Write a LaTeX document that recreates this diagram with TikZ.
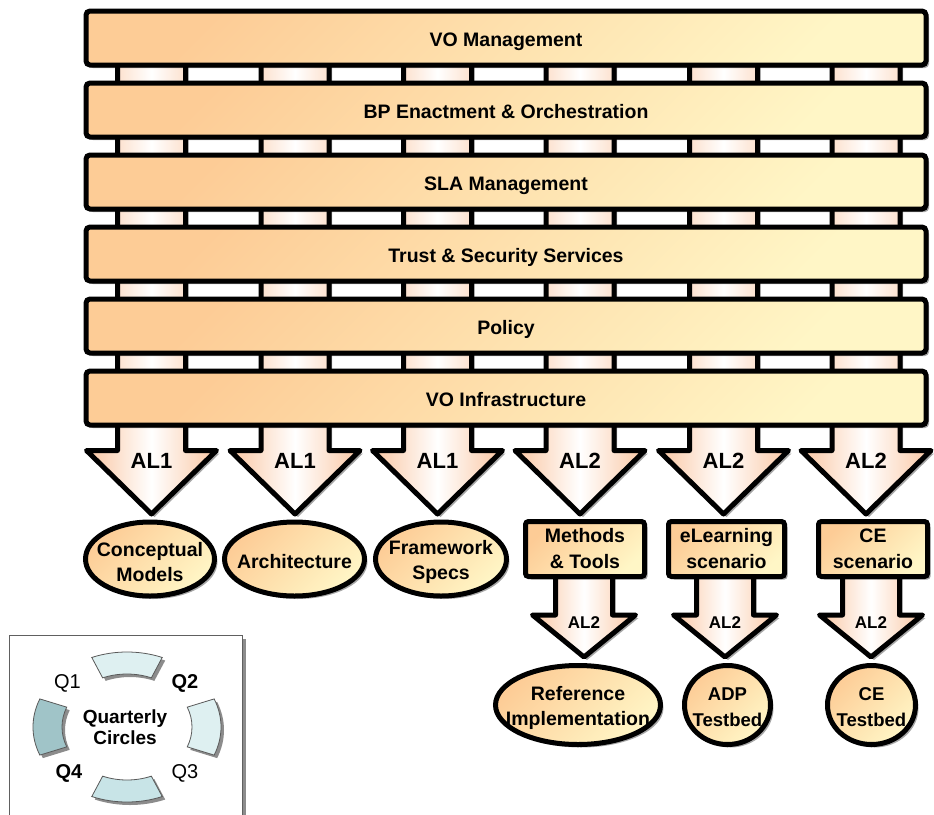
\documentclass[tikz,border=0pt]{standalone}
\usepackage{fontspec}
\setmainfont{Liberation Sans}
\usetikzlibrary{shapes.geometric,shadows,calc}
\definecolor{peach}{RGB}{253,204,150}
\definecolor{pale}{RGB}{255,246,198}
\definecolor{apeach}{RGB}{250,198,162}
\definecolor{tealL}{RGB}{222,240,241}
\definecolor{tealM}{RGB}{200,228,231}
\definecolor{tealD}{RGB}{160,196,200}
\newcommand\fatarrow[6]{\draw[fat] (#1-#5,#2) -- (#1-#5,#3) -- (#1-#6,#3) -- (#1,#4) -- (#1+#6,#3) -- (#1+#5,#3) -- (#1+#5,#2) -- cycle;}
\newcommand\qarc[2]{\filldraw[fill=#2, draw=gray!70!black, line width=0.8pt, qshad]
  ($(qc)+(#1-22:94 and 75)$) arc[start angle=#1-22, end angle=#1+22, x radius=94, y radius=75]
  -- ($(qc)+(#1+22:65 and 53)$) arc[start angle=#1+22, end angle=#1-22, x radius=65, y radius=53] -- cycle;}
\begin{document}
\begin{tikzpicture}[x=1pt,y=-1pt,
  shad/.style={drop shadow={shadow xshift=3pt,shadow yshift=-3pt,fill=black,opacity=0.35}},
  qshad/.style={drop shadow={shadow xshift=3pt,shadow yshift=-3pt,fill=black,opacity=0.45}},
  warm/.style={shading=axis, top color=peach, bottom color=pale, shading angle=45},
  fat/.style={draw=black, line width=5pt, line join=round, left color=apeach, right color=apeach, middle color=white, shad},
  barbox/.style={rectangle, draw=black, line width=5pt, rounded corners=4pt, warm, shad, minimum width=840pt, minimum height=54pt, inner sep=0pt, text height=17pt, text depth=0pt, font=\fontsize{19.5}{23}\selectfont\bfseries},
  oval/.style={ellipse, draw=black, line width=5pt, warm, shad, inner sep=0pt},
  ovaltext/.style={align=center, inner sep=0pt, font=\fontsize{19.5}{25.5}\selectfont\bfseries},
  sbox/.style={rectangle, draw=black, line width=5pt, rounded corners=3pt, warm, shad, inner sep=0pt, align=center, minimum height=55pt, font=\fontsize{19.5}{26}\selectfont\bfseries},
  biglab/.style={font=\fontsize{22}{24}\selectfont\bfseries, inner sep=0pt},
  smalllab/.style={font=\fontsize{17}{19}\selectfont\bfseries, inner sep=0pt},
  qlab/.style={font=\fontsize{20}{22}\selectfont, inner sep=0pt},
]
\fill[white] (0,0) rectangle (934,814);
\useasboundingbox (0,0) rectangle (934,814);

% big arrows behind the bars
\fatarrow{151.5}{40}{450.5}{514}{34}{65}
\fatarrow{295}{40}{450.5}{514}{34}{65}
\fatarrow{437.5}{40}{450.5}{514}{34}{65}
\fatarrow{580}{40}{450.5}{514}{34}{65}
\fatarrow{723.5}{40}{450.5}{514}{34}{65}
\fatarrow{866}{40}{450.5}{514}{34}{65}

% layer bars
\node[barbox] (vo)  at (506,38)  {VO Management};
\node[barbox] (bp)  at (506,110) {BP Enactment \& Orchestration};
\node[barbox] (sla) at (506,182) {SLA Management};
\node[barbox] (ts)  at (506,254) {Trust \& Security Services};
\node[barbox] (pol) at (506,326) {Policy};
\node[barbox] (voi) at (506,398) {VO Infrastructure};

% labels on big arrows
\node[biglab] (l1) at (151.5,461) {AL1};
\node[biglab] (l2) at (295,461) {AL1};
\node[biglab] (l3) at (437.5,461) {AL1};
\node[biglab] (l4) at (580,461) {AL2};
\node[biglab] (l5) at (723.5,461) {AL2};
\node[biglab] (l6) at (866,461) {AL2};

% lower arrows
\fatarrow{584}{560}{615}{657}{28.5}{51.5}
\fatarrow{725}{560}{615}{657}{28.5}{51.5}
\fatarrow{871}{560}{615}{657}{28.5}{51.5}
\node[smalllab] (m1) at (584,623) {AL2};
\node[smalllab] (m2) at (725,623) {AL2};
\node[smalllab] (m3) at (871,623) {AL2};

% first row results
\node[oval, minimum width=129pt, minimum height=74pt] (cm) at (150,559) {};
\node[ovaltext] (cmt) at (150,562) {Conceptual\\Models};
\node[oval, minimum width=140pt, minimum height=74pt] (ar) at (294.5,559) {};
\node[ovaltext] (art) at (294.5,562) {Architecture};
\node[oval, minimum width=131pt, minimum height=74pt] (fs) at (441,559) {};
\node[ovaltext] (fst) at (441,562) {Framework\\Specs};
\node[sbox, minimum width=119pt] (mt) at (585,549) {Methods\\\& Tools};
\node[sbox, minimum width=116pt] (el) at (726.5,549) {eLearning\\scenario};
\node[sbox, minimum width=109pt] (ce) at (873,549) {CE\\scenario};

% second row results
\node[oval, minimum width=165pt, minimum height=79pt] (ri) at (578,705) {};
\node[ovaltext] (rit) at (578,708) {Reference\\Implementation};
\node[oval, minimum width=86pt, minimum height=79pt] (adp) at (727.5,705) {};
\node[ovaltext, font=\fontsize{18.5}{25.5}\selectfont\bfseries] (adpt) at (727.5,707) {ADP\\Testbed};
\node[oval, minimum width=88pt, minimum height=79pt] (cet) at (871.5,705) {};
\node[ovaltext, font=\fontsize{18.5}{25.5}\selectfont\bfseries] (cett) at (871.5,707) {CE\\Testbed};

% quarterly circles legend
\node[rectangle, draw=gray!75!black, line width=1.2pt, fill=white,
      drop shadow={shadow xshift=3pt,shadow yshift=-3pt,fill=black,opacity=0.45},
      minimum width=233pt, minimum height=200pt, anchor=north west, inner sep=0pt] (qbox) at (9,635) {};
\coordinate (qc) at (127,727);
\qarc{270}{tealL}
\qarc{0}{tealL}
\qarc{90}{tealM}
\qarc{180}{tealD}
\node[qlab] (q1) at (67.5,683) {Q1};
\node[qlab, font=\fontsize{20}{22}\selectfont\bfseries] (q2) at (185,683) {Q2};
\node[qlab] (q3) at (185,773) {Q3};
\node[qlab, font=\fontsize{20}{22}\selectfont\bfseries] (q4) at (69,773) {Q4};
\node[align=center, inner sep=0pt, font=\fontsize{19}{21}\selectfont\bfseries] (qt) at (125,727.5) {Quarterly\\Circles};
\end{tikzpicture}
\end{document}
